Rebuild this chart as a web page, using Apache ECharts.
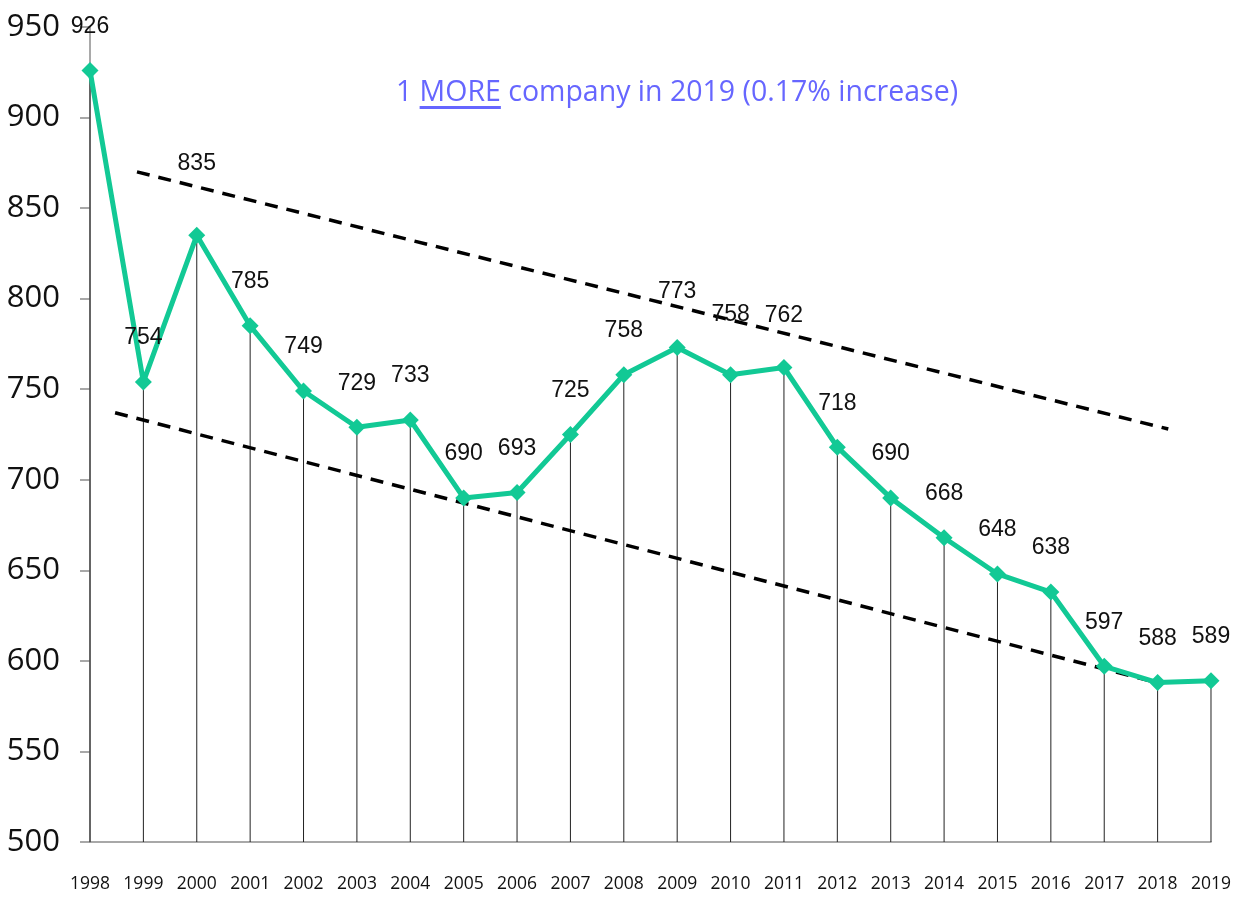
<!DOCTYPE html>
<html>
<head>
<meta charset="utf-8">
<script src="https://cdn.jsdelivr.net/npm/echarts@6/dist/echarts.min.js"></script>
<style>
  html, body { margin: 0; padding: 0; background: #fff; }
  #chart { width: 1234px; height: 897px; }
</style>
</head>
<body>
<div id="chart"></div>
<script>
// 公司数量 1998-2019
const years = ['1998', '1999', '2000', '2001', '2002', '2003', '2004', '2005', '2006', '2007', '2008',
  '2009', '2010', '2011', '2012', '2013', '2014', '2015', '2016', '2017', '2018', '2019']
const companies = [926, 754, 835, 785, 749, 729, 733, 690, 693, 725, 758, 773, 758, 762, 718, 690, 668, 648, 638, 597, 588, 589]
const yTicks = [500, 550, 600, 650, 700, 750, 800, 850, 900, 950]
// 趋势线 [类目序号, 数值]
const upperTrend = [[0.88, 870], [20.2, 728]]
const lowerTrend = [[0.47, 737], [19.86, 589]]
const titleText = ['1 ', 'MORE', ' company in 2019 (0.17% increase)']

// 个别标签上移 (px)
const labelLift = { '2000': 28, '2009': 12, '2010': 16, '2011': 8 }

const axisFont = '"Open Sans", "Noto Sans", sans-serif'
const labelFont = '"Liberation Sans", Arial, sans-serif'
const green = '#12C995'
const blue = '#6666FF'
const titleSize = 28.5
const titleX = 677
const titleTop = 78

// 量一下标题宽度, 用来画 MORE 的下划线
let ctx = document.createElement('canvas').getContext('2d')
ctx.font = titleSize + 'px ' + axisFont
let wPre = ctx.measureText(titleText[0]).width
let wMore = ctx.measureText(titleText[1]).width
let wAll = ctx.measureText(titleText.join('')).width

let chart = echarts.init(document.getElementById('chart'))

let lineData = companies.map((v, i) => {
  let lift = labelLift[years[i]] || 0
  return { value: v, label: { offset: [0, -lift] } }
})

let trendSeries = (data) => ({
  type: 'line',
  xAxisIndex: 1,
  data: data,
  symbol: 'none',
  silent: true,
  z: 3,
  lineStyle: { color: '#000', width: 3.5, type: [13, 9] }
})

let option = {
  backgroundColor: '#fff',
  animation: false,
  title: {
    text: titleText.join(''),
    left: titleX,
    top: titleTop,
    padding: 0,
    textAlign: 'center',
    textStyle: { fontFamily: axisFont, fontSize: titleSize, fontWeight: 'normal', color: blue }
  },
  grid: { left: 90, right: 20, top: 27, bottom: 55 },
  xAxis: [
    {
      type: 'category',
      data: years,
      boundaryGap: false,
      axisLine: { lineStyle: { color: '#8c8c8c', width: 1.5 } },
      axisTick: { show: false },
      axisLabel: { interval: 0, margin: 33, fontFamily: axisFont, fontSize: 17.5, color: '#111' },
      splitLine: { show: false }
    },
    {
      type: 'value',
      min: 0,
      max: years.length - 1,
      show: false
    }
  ],
  yAxis: {
    type: 'value',
    min: yTicks[0],
    max: yTicks[yTicks.length - 1],
    interval: yTicks[1] - yTicks[0],
    axisLine: { show: true, lineStyle: { color: '#8c8c8c', width: 1.5 } },
    axisTick: { show: true, length: 10, lineStyle: { color: '#8c8c8c', width: 1.5 } },
    axisLabel: { margin: 30, fontFamily: axisFont, fontSize: 31, color: '#111' },
    splitLine: { show: false }
  },
  graphic: [
    // MORE 下划线
    {
      type: 'rect',
      shape: { x: titleX - wAll / 2 + wPre, y: titleTop + 28, width: wMore, height: 3 },
      style: { fill: blue }
    }
  ],
  series: [
    {
      type: 'bar',
      data: companies,
      barWidth: 1,
      silent: true,
      itemStyle: { color: '#222' },
      z: 1
    },
    trendSeries(upperTrend),
    trendSeries(lowerTrend),
    {
      type: 'line',
      data: lineData,
      symbol: 'diamond',
      symbolSize: 17,
      lineStyle: { color: green, width: 5 },
      itemStyle: { color: green },
      z: 5,
      label: {
        show: true,
        position: 'top',
        distance: 24,
        fontFamily: labelFont,
        fontSize: 23,
        color: '#111'
      }
    }
  ]
}

chart.setOption(option)
</script>
</body>
</html>
